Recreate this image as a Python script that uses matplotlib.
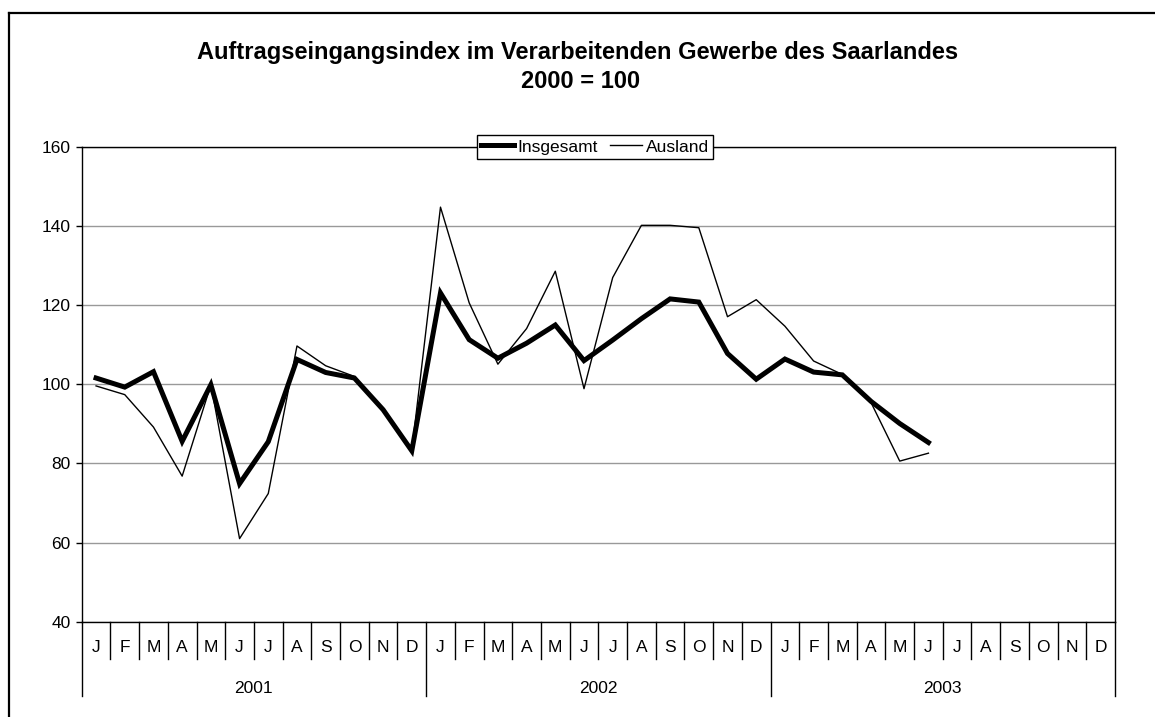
import matplotlib
matplotlib.use("Agg")
import matplotlib.pyplot as plt
from matplotlib.lines import Line2D
import matplotlib.transforms as mtransforms

plt.rcParams['font.family'] = ['Liberation Sans', 'DejaVu Sans']

months = ["J", "F", "M", "A", "M", "J", "J", "A", "S", "O", "N", "D"]
years = ["2001", "2002", "2003"]

insgesamt = [101.6, 99.3, 103.2, 85.6, 99.9, 74.9, 85.5, 106.3, 103.0, 101.6, 93.6, 83.2,
             123.1, 111.3, 106.6, 110.4, 115.0, 106.0, 111.2, 116.6, 121.6, 120.8, 107.8, 101.3,
             106.4, 103.1, 102.4, 95.7, 90.1, 85.3]
ausland = [99.6, 97.4, 89.2, 76.8, 99.9, 61.0, 72.4, 109.7, 104.7, 102.0, 93.8, 83.2,
           144.8, 120.6, 105.1, 114.1, 128.6, 98.9, 127.0, 140.2, 140.2, 139.6, 117.1, 121.4,
           114.7, 105.9, 102.5, 95.4, 80.6, 82.6]

fig = plt.figure(figsize=(11.55, 7.17), dpi=100)
ax = fig.add_axes([81.7 / 1155, 1 - 621.7 / 717, (1115 - 81.7) / 1155, (621.7 - 147) / 717])

n_total = len(months) * len(years)
x_vals = list(range(len(insgesamt)))

ax.plot(x_vals, insgesamt, color="black", lw=3.6, label="Insgesamt", solid_joinstyle="miter", zorder=3)
ax.plot(x_vals, ausland, color="black", lw=1.0, label="Ausland", zorder=2)

ax.set_xlim(-0.5, n_total - 0.5)
ax.set_ylim(40, 160)
ax.set_yticks([40, 60, 80, 100, 120, 140, 160])
ax.tick_params(axis="y", direction="out", length=4, width=1, labelsize=12.5, pad=4)
ax.set_xticks([])
ax.yaxis.grid(True, color="#999999", lw=1)
ax.set_axisbelow(True)
for s in ax.spines.values():
    s.set_color("black")
    s.set_linewidth(1.0)

# category axis: month and year labels with separators
trans = mtransforms.blended_transform_factory(ax.transData, ax.transAxes)
h = 621.7 - 147
y_month_sep = -(659 - 621.7) / h
y_year_sep = -(696 - 621.7) / h
y_month_lab = -(648 - 621.7) / h
y_year_lab = -(688.5 - 621.7) / h

for k in range(n_total + 1):
    xb = k - 0.5
    ybot = y_year_sep if k % 12 == 0 else y_month_sep
    ax.add_line(Line2D([xb, xb], [0, ybot], transform=trans, color="black", lw=1.0, clip_on=False))
for i in range(n_total):
    ax.text(i, y_month_lab, months[i % 12], transform=trans, ha="center", va="center", fontsize=12.5)
for j, yr in enumerate(years):
    ax.text(j * 12 + 5.5, y_year_lab, yr, transform=trans, ha="center", va="center", fontsize=12.5)

leg = ax.legend(loc="center", bbox_to_anchor=(0.497, 1.0), ncol=2, frameon=True, fancybox=False,
                edgecolor="black", framealpha=1, fontsize=12.5, handlelength=1.85, handletextpad=0.25,
                columnspacing=0.65, borderpad=0.25, borderaxespad=0)
leg.get_frame().set_linewidth(1.0)
leg.set_zorder(5)

fig.text(0.5, 1 - 52 / 717, "Auftragseingangsindex im Verarbeitenden Gewerbe des Saarlandes",
         ha="center", va="center", fontsize=17, fontweight="bold")
fig.text(0.503, 1 - 81 / 717, "2000 = 100", ha="center", va="center", fontsize=17, fontweight="bold")

# outer border (partly cut off at right/bottom)
fig.add_artist(Line2D([9 / 1155, 9 / 1155], [0, 1 - 13 / 717], transform=fig.transFigure, color="black", lw=1.6))
fig.add_artist(Line2D([9 / 1155, 1], [1 - 13 / 717, 1 - 13 / 717], transform=fig.transFigure, color="black", lw=1.6))

fig.savefig("out.png", dpi=100)
